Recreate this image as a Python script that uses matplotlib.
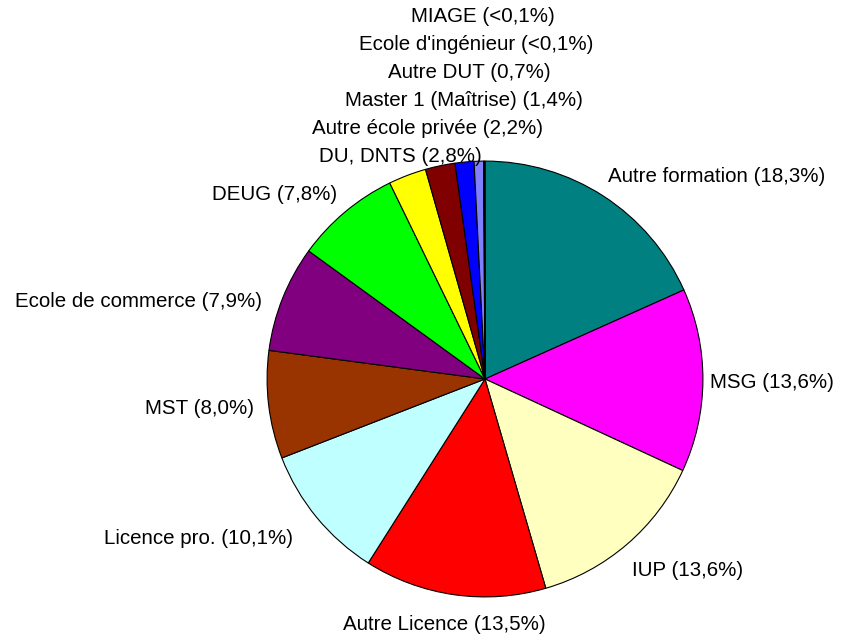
import matplotlib.pyplot as plt

W, H = 844, 634

labels = ["Autre formation (18,3%)", "MSG (13,6%)", "IUP (13,6%)", "Autre Licence (13,5%)",
          "Licence pro. (10,1%)", "MST (8,0%)", "Ecole de commerce (7,9%)", "DEUG (7,8%)",
          "DU, DNTS (2,8%)", "Autre école privée (2,2%)", "Master 1 (Maîtrise) (1,4%)",
          "Autre DUT (0,7%)", "Ecole d'ingénieur (<0,1%)", "MIAGE (<0,1%)"]
values = [18.3, 13.6, 13.6, 13.5, 10.1, 8.0, 7.9, 7.8, 2.8, 2.2, 1.4, 0.7, 0.05, 0.05]
colors = ["#008080", "#FF00FF", "#FFFFC0", "#FF0000", "#C0FFFF", "#993300", "#800080",
          "#00FF00", "#FFFF00", "#800000", "#0000FF", "#8080FF", "#CC99FF", "#99CCFF"]

# label anchor (left x, center y) in pixels
label_pos = [(608, 177), (710, 382), (632, 570), (343, 624), (104, 538), (145, 408),
             (15, 302), (212, 195), (319, 156), (312, 128), (345, 100), (388, 73),
             (359, 45), (411, 17)]

plt.rcParams['font.family'] = ['Liberation Sans', 'DejaVu Sans']

fig = plt.figure(figsize=(W / 100, H / 100), dpi=100)
cx, cy, r = 485, 379, 219
ax = fig.add_axes([(cx - r) / W, 1 - (cy + r) / H, 2 * r / W, 2 * r / H])
ax.pie(values, colors=colors, startangle=90, counterclock=False, radius=1,
       wedgeprops=dict(edgecolor="black", linewidth=0.8))
ax.set_xlim(-1.005, 1.005)
ax.set_ylim(-1.005, 1.005)
ax.set_aspect("equal")
ax.axis("off")

for lab, (x, y) in zip(labels, label_pos):
    fig.text(x / W, 1 - y / H, lab, ha="left", va="center", fontsize=14.8)

fig.savefig("out.png", dpi=100)
